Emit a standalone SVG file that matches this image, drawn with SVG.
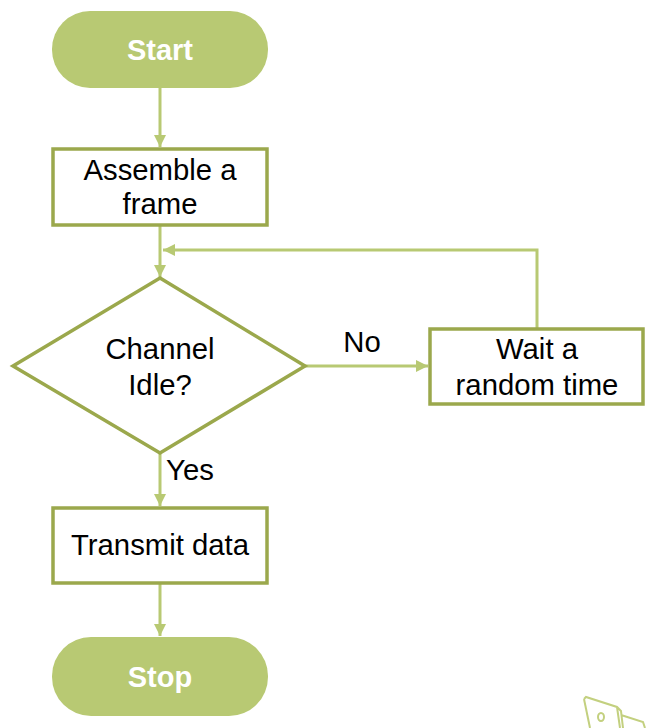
<svg xmlns="http://www.w3.org/2000/svg" width="658" height="728" viewBox="0 0 658 728">
<style>
.term{fill:#b8c973;}
.box{fill:#ffffff;stroke:#9ba84c;stroke-width:3.5;}
.tt{font-family:"Liberation Sans",Arial,sans-serif;font-size:29px;font-weight:bold;fill:#ffffff;text-anchor:middle;}
.t{font-family:"Liberation Sans",Arial,sans-serif;font-size:29.3px;fill:#000000;text-anchor:middle;}
.c{fill:none;stroke:#b8c973;stroke-width:3;}
.deco{fill:none;stroke:#c3d07f;stroke-width:2;}
</style>
<defs>
<marker id="ah" viewBox="0 0 10 10" refX="10" refY="5" markerWidth="4" markerHeight="4" markerUnits="strokeWidth" orient="auto">
<path d="M0,0 L10,5 L0,10 z" fill="#b8c973"/>
</marker>
</defs>
<g id="connectors">
<line class="c" x1="160" y1="88" x2="160" y2="147" marker-end="url(#ah)"/>
<line class="c" x1="160" y1="226" x2="160" y2="277" marker-end="url(#ah)"/>
<polyline class="c" points="537,328 537,250 163,250" marker-end="url(#ah)"/>
<line class="c" x1="305" y1="366" x2="428" y2="366" marker-end="url(#ah)"/>
<line class="c" x1="160" y1="453" x2="160" y2="506" marker-end="url(#ah)"/>
<line class="c" x1="160" y1="583" x2="160" y2="636" marker-end="url(#ah)"/>
<text class="t" x="362" y="352">No</text>
<text class="t" x="190" y="480">Yes</text>
</g>
<g id="start">
<rect class="term" x="52" y="11" width="216" height="77" rx="38" ry="38"/>
<text class="tt" x="160" y="60">Start</text>
</g>
<g id="assemble">
<rect class="box" x="53" y="149" width="214" height="76"/>
<text class="t" x="160" y="180">Assemble a</text>
<text class="t" x="160" y="214">frame</text>
</g>
<g id="channel-idle">
<polygon class="box" points="160,278 305,366 160,453 13,366"/>
<text class="t" x="160" y="359">Channel</text>
<text class="t" x="160" y="395">Idle?</text>
</g>
<g id="wait">
<rect class="box" x="430" y="329" width="213" height="75"/>
<text class="t" x="537" y="359">Wait a</text>
<text class="t" x="537" y="395">random time</text>
</g>
<g id="transmit">
<rect class="box" x="53" y="508" width="214" height="75"/>
<text class="t" x="160" y="555">Transmit data</text>
</g>
<g id="stop">
<rect class="term" x="52" y="637" width="216" height="79" rx="39" ry="39"/>
<text class="tt" x="160" y="687">Stop</text>
</g>
<g id="decoration">
<path class="deco" d="M584,699 L586,697 L617,707 L621,711 L623,728 M617,707 L620,728 M621,715 L643,722 L645,728"/>
<path class="deco" d="M584,699 L590,728"/>
<ellipse class="deco" cx="601" cy="717" rx="3" ry="4"/>
</g>
</svg>
